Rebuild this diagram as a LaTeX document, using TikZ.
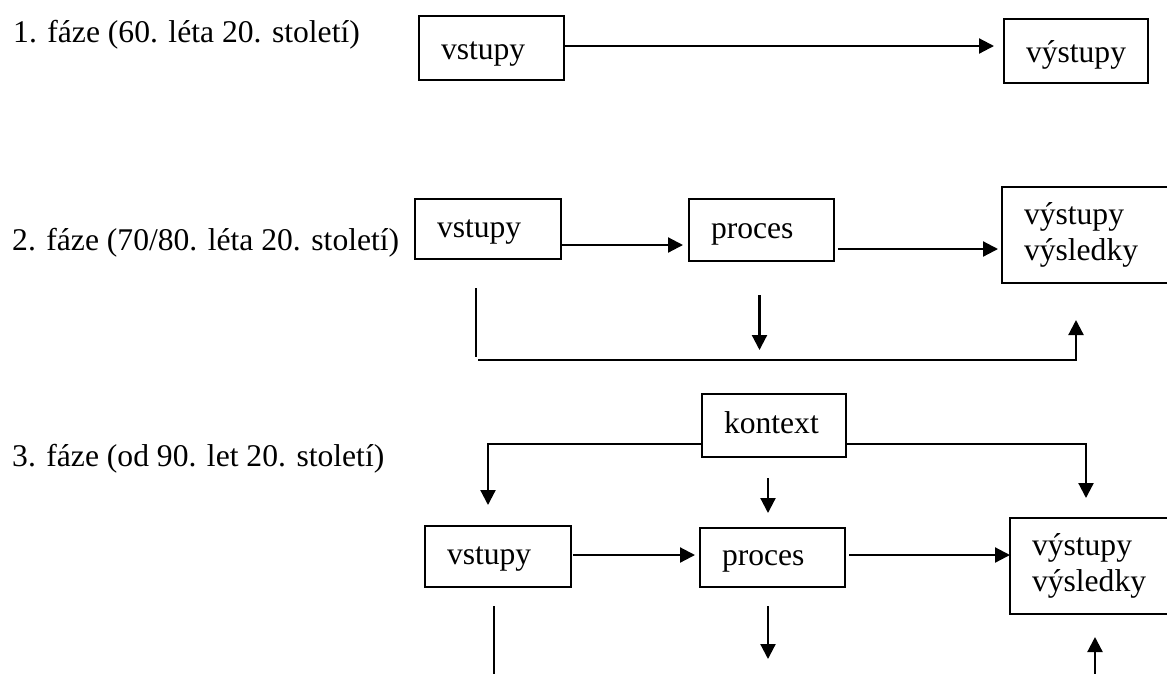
\documentclass[tikz,border=0pt]{standalone}
\usepackage{fontspec}
\setmainfont{Liberation Serif}
\usetikzlibrary{arrows.meta,calc}

\tikzset{
  box/.style={draw, line width=2pt, rectangle, inner xsep=22pt, inner ysep=0pt,
    outer sep=0pt, anchor=north west, align=left,
    font=\fontsize{31.6}{36}\selectfont},
  oneline/.style={text height=22pt, text depth=6pt},
  topline/.style={text height=28pt, text depth=6pt},
  conn/.style={line width=2.2pt},
  arr/.style={conn, -{Triangle[length=15pt,width=15pt]}},
  phase/.style={anchor=base west, inner sep=0pt,
    font=\fontsize{31.6}{36}\selectfont},
}

\begin{document}
\begin{tikzpicture}[x=1pt,y=-1pt]
\fill[white] (0,0) rectangle (1167,673);
\useasboundingbox (0,0) rectangle (1167,673);
\clip (0,0) rectangle (1167,673);

% phase captions
\node[phase] (f1) at (13,42)  {1. fáze (60. léta 20. století)};
\node[phase] (f2) at (12,250) {2. fáze (70/80. léta 20. století)};
\node[phase] (f3) at (12,466) {3. fáze (od 90. let 20. století)};

% phase 1: inputs -> outputs
\node[box, topline, text width=101pt, minimum height=64pt] (a1) at (419,16) {vstupy};
\node[box, topline, text width=100pt, minimum height=64pt] (b1) at (1004,19) {výstupy};
\draw[arr, shorten >=10pt] ($(a1.east)+(0,-2)$) -- ($(a1.east -| b1.west)+(0,-2)$);

% phase 2: inputs -> process -> outputs, with a feedback line underneath
\node[box, oneline, text width=102pt, minimum height=60pt] (a2) at (415,199) {vstupy};
\node[box, oneline, text width=101pt, minimum height=62pt] (p2) at (689,199) {proces};
\node[box, text width=128pt, minimum height=96pt] (o2) at (1002,187) {výstupy\\výsledky};
\draw[arr, shorten >=6pt] ($(a2.east)+(0,16)$) -- ($(a2.east -| p2.west)+(0,16)$);
\draw[arr, shorten <=4pt, shorten >=4pt] ($(p2.east)+(0,19)$) -- ($(p2.east -| o2.west)+(0,19)$);
\coordinate (a2d) at ($(a2.south)+(-12,29)$);
\coordinate (fb2) at ($(a2.south)+(-10,101)$);
\draw[conn] (a2d) -- ++(0,69);
\draw[arr] (fb2) -- ($(fb2 -| o2.south)+(-12,0)$) -- ($(o2.south)+(-12,37)$);
\draw[arr] ($(p2.south)+(-2,34)$) -- ++(0,55);

% phase 3: context feeding inputs, process and outputs
\node[box, oneline, text width=100pt, minimum height=63pt] (c3) at (702,394) {kontext};
\node[box, oneline, text width=102pt, minimum height=61pt] (a3) at (425,526) {vstupy};
\node[box, oneline, text width=101pt, minimum height=59pt] (p3) at (700,528) {proces};
\node[box, text width=120pt, minimum height=96pt] (o3) at (1010,518) {výstupy\\výsledky};
\draw[arr] ($(c3.west)+(0,18.5)$) -| ($(a3.north)+(-10,-21)$);
\draw[arr] ($(c3.east)+(0,18.5)$) -| ($(o3.north)+(-6,-20)$);
\draw[arr] ($(c3.south)+(-6,21)$) -- ++(0,35);
\draw[arr, shorten <=2pt, shorten >=5pt] ($(a3.east)+(0,-1.5)$) -- ($(a3.east -| p3.west)+(0,-1.5)$);
\draw[arr, shorten <=4pt] ($(p3.east)+(0,-2.5)$) -- ($(p3.east -| o3.west)+(0,-2.5)$);
\draw[conn] ($(a3.south)+(-4,19)$) -- ++(0,90);
\draw[arr] ($(p3.south)+(-4.5,19)$) -- ++(0,53);
\draw[arr] ($(o3.south)+(3,70)$) -- ($(o3.south)+(3,23)$);
\end{tikzpicture}
\end{document}
